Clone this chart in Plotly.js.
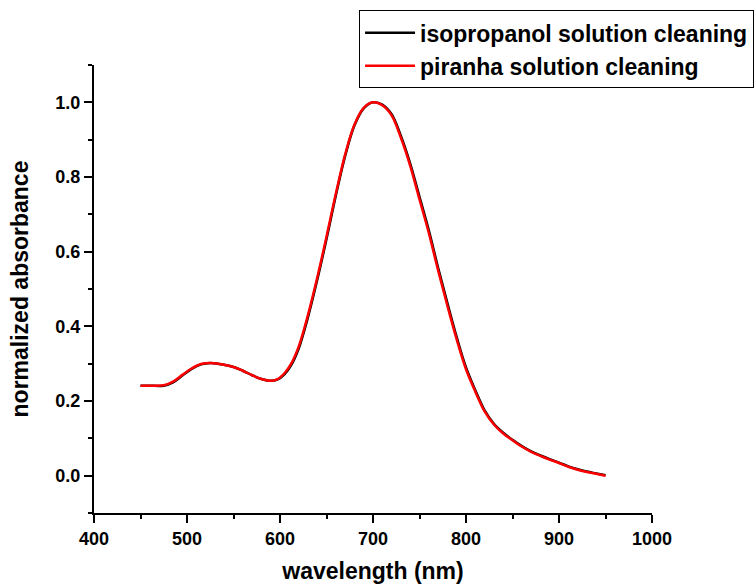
<!DOCTYPE html>
<html>
<head>
<meta charset="utf-8">
<script src="https://cdn.plot.ly/plotly-3.0.1.min.js"></script>
<style>html,body{margin:0;padding:0;background:#fff;}#chart{width:755px;height:584px;}</style>
</head>
<body>
<div id="chart"></div>
<script>
var wavelength = [450,460,475,485,495,505,515,525,535,550,560,570,580,590,597,605,612,620,630,640,650,660,670,680,690,700,710,720,730,740,750,760,770,780,790,800,810,820,830,840,850,860,870,880,890,900,910,920,930,940,950];
var isopropanol = [0.241,0.241,0.241,0.250,0.268,0.286,0.298,0.302,0.299,0.291,0.281,0.269,0.259,0.254,0.257,0.272,0.296,0.340,0.424,0.524,0.634,0.750,0.856,0.938,0.984,1.000,0.994,0.968,0.910,0.836,0.747,0.657,0.557,0.462,0.371,0.290,0.229,0.175,0.139,0.115,0.096,0.079,0.065,0.054,0.044,0.035,0.025,0.017,0.011,0.006,0.001];
var piranha = [0.241,0.241,0.242,0.252,0.270,0.287,0.299,0.302,0.299,0.291,0.281,0.269,0.259,0.254,0.258,0.275,0.300,0.345,0.430,0.530,0.640,0.755,0.860,0.940,0.985,1.000,0.992,0.965,0.905,0.830,0.740,0.650,0.550,0.455,0.365,0.285,0.225,0.172,0.137,0.113,0.095,0.078,0.064,0.053,0.043,0.034,0.024,0.016,0.010,0.005,0.000];
var seriesNames = ["isopropanol solution cleaning","piranha solution cleaning"];
var xTicks = [400,500,600,700,800,900,1000];
var yTicks = [0.0,0.2,0.4,0.6,0.8,1.0];

var fontFam = "Liberation Sans, Arial, sans-serif";
var traces = [
  {x: wavelength, y: isopropanol, name: seriesNames[0], mode: "lines", line: {color: "#000000", width: 2.5, shape: "spline"}},
  {x: wavelength, y: piranha, name: seriesNames[1], mode: "lines", line: {color: "#ff0000", width: 2.5, shape: "spline"}}
];
var axisCommon = {
  showline: true, linecolor: "#000", linewidth: 2, mirror: false,
  showgrid: false, zeroline: false,
  ticks: "outside", ticklen: 8, tickwidth: 2, tickcolor: "#000",
  tickfont: {family: fontFam, size: 18, color: "#000", weight: "bold"}
};
var layout = {
  width: 755, height: 584,
  margin: {l: 94, r: 103, t: 65, b: 71, autoexpand: false},
  paper_bgcolor: "#fff", plot_bgcolor: "#fff",
  showlegend: true,
  legend: {
    x: 0.475, y: 1.122, xanchor: "left", yanchor: "top",
    bgcolor: "#fff", bordercolor: "#000", borderwidth: 1,
    font: {family: fontFam, size: 23, color: "#000", weight: "bold"},
    itemwidth: 50, tracegroupgap: 0
  },
  xaxis: Object.assign({}, axisCommon, {
    range: [400, 1000], tickmode: "array", tickvals: xTicks,
    minor: {dtick: 50, ticklen: 4, tickwidth: 2, tickcolor: "#000", ticks: "outside"},
    title: {text: "wavelength (nm)", font: {family: fontFam, size: 23, color: "#000", weight: "bold"}, standoff: 16}
  }),
  yaxis: Object.assign({}, axisCommon, {
    range: [-0.1, 1.1], tickmode: "array", tickvals: yTicks, tickformat: ".1f",
    minor: {dtick: 0.1, ticklen: 4, tickwidth: 2, tickcolor: "#000", ticks: "outside"},
    title: {text: "normalized absorbance", font: {family: fontFam, size: 23, color: "#000", weight: "bold"}, standoff: 20}
  })
};
Plotly.newPlot("chart", traces, layout, {displayModeBar: false, staticPlot: true});
</script>
</body>
</html>
